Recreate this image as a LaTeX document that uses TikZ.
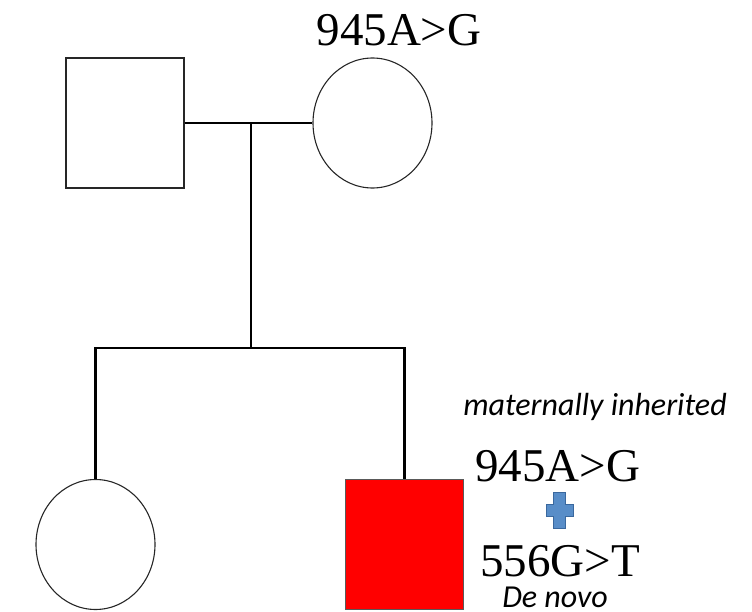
\documentclass[tikz,border=0pt]{standalone}
\usepackage{fontspec}
\setmainfont{Liberation Serif}
\newfontfamily\notefont{Carlito}
\usetikzlibrary{shapes.geometric}
\definecolor{plusfill}{RGB}{88,141,200}
\definecolor{plusedge}{RGB}{58,104,158}
\begin{document}
\begin{tikzpicture}[x=1pt,y=-1pt,
  person/.style={draw=black!85,line width=1.1pt,inner sep=0pt},
  male/.style={person,rectangle,minimum width=118,minimum height=130},
  female/.style={person,ellipse,minimum width=119,minimum height=130},
  kin/.style={line width=2.4pt,black},
  variant/.style={font=\fontsize{47}{50}\selectfont,anchor=base,inner sep=0pt},
  note/.style={font=\notefont\itshape\fontsize{32}{34}\selectfont,anchor=base,inner sep=0pt}]
\useasboundingbox (0,0) rectangle (752,612);
% parents
\node[male] (father) at (125,123) {};
\node[female] (mother) at (372.5,123) {};
% children
\node[female] (daughter) at (95.5,544.5) {};
\node[male,fill=red,draw=black!65] (son) at (404.5,544.5) {};
% marriage, descent and sibship lines
\coordinate (union) at (251,123);
\coordinate (sibship) at (251,348);
\draw[kin] (father.east) -- (mother.west);
\draw[kin] (union) -- (sibship);
\draw[kin,line join=miter] (daughter.north) |- (sibship) -| (son.north);
% genotype labels
\node[variant] (motherVar) at (399,46) {945A>G};
\node[note] (inherit) at (595,415) {maternally inherited};
\node[variant] (sonVar1) at (557.5,481.5) {945A>G};
\node[variant] (sonVar2) at (560,576.5) {556G>T};
\node[note] (denovo) at (555,607) {De novo};
% plus sign between the two variants
\draw[fill=plusfill,draw=plusedge,line width=1pt]
  (553.5,492) -- (565.5,492) -- (565.5,504) -- (573,504) -- (573,516)
  -- (565.5,516) -- (565.5,528) -- (553.5,528) -- (553.5,516) -- (546,516)
  -- (546,504) -- (553.5,504) -- cycle;
\end{tikzpicture}
\end{document}
